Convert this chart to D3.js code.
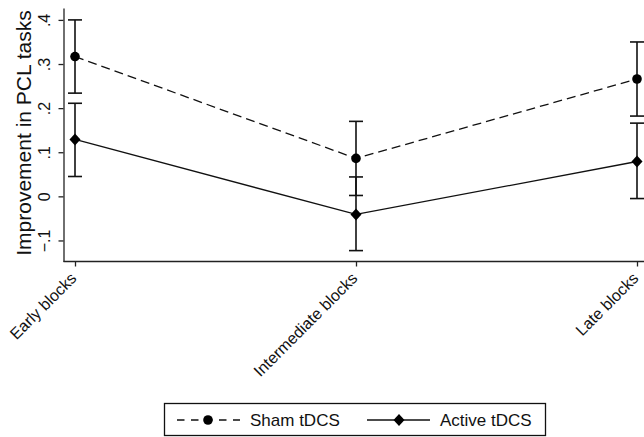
<!DOCTYPE html>
<html>
<head>
<meta charset="utf-8">
<script src="https://cdn.jsdelivr.net/npm/d3@7"></script>
<style>
  body { margin: 0; background: #fff; }
  svg { display: block; font-family: "Liberation Sans", Arial, Helvetica, sans-serif; }
</style>
</head>
<body>
<svg id="chart"></svg>
<script>
// Data.
var categories = ["Early blocks", "Intermediate blocks", "Late blocks"];
var shamMean   = [0.317, 0.086, 0.266];
var shamLower  = [0.234, 0.002, 0.182];
var shamUpper  = [0.400, 0.170, 0.350];
var activeMean  = [0.129, -0.041, 0.079];
var activeLower = [0.045, -0.123, -0.005];
var activeUpper = [0.211, 0.044, 0.166];
var yTickValues = [-0.1, 0, 0.1, 0.2, 0.3, 0.4];
var yTickLabels = ["\u2212.1", "0", ".1", ".2", ".3", ".4"];
var seriesNames = ["Sham tDCS", "Active tDCS"];

var W = 644, H = 437;
var axisX = 63.5, axisY = 261.5;

var svg = d3.select("#chart").attr("width", W).attr("height", H);
svg.append("rect").attr("width", W).attr("height", H).attr("fill", "#fff");

var x = d3.scalePoint().domain(categories).range([75, 637]);
var y = d3.scaleLinear().domain([-0.1477, 0.427]).range([axisY, 8]);

// Axes
var yAxis = svg.append("g")
    .attr("transform", "translate(" + axisX + ",0)")
    .call(d3.axisLeft(y).tickValues(yTickValues).tickSize(5).tickSizeOuter(0)
        .tickFormat(function (d, i) { return yTickLabels[i]; }));
yAxis.select(".domain").attr("stroke-width", 1.3).attr("stroke", "#222");
yAxis.selectAll(".tick line").attr("stroke-width", 1.3).attr("stroke", "#222");
yAxis.selectAll(".tick text")
    .attr("transform", "rotate(-90)")
    .attr("x", 0).attr("y", -13.5).attr("dy", 0)
    .attr("text-anchor", "middle")
    .attr("font-size", 16).attr("fill", "#111")
    .style("font-family", "'Liberation Sans', Arial, sans-serif");

var xAxis = svg.append("g")
    .attr("transform", "translate(0," + axisY + ")")
    .call(d3.axisBottom(x).tickSize(5).tickSizeOuter(0));
xAxis.select(".domain").remove();
xAxis.append("line").attr("x1", axisX).attr("x2", W).attr("y1", 0).attr("y2", 0)
    .attr("stroke", "#222").attr("stroke-width", 1.3);
xAxis.selectAll(".tick line").attr("stroke-width", 1.3).attr("stroke", "#222");
xAxis.selectAll(".tick text")
    .attr("x", 0).attr("y", 0).attr("dy", "0.35em")
    .attr("transform", "translate(-2,14) rotate(-45)")
    .attr("text-anchor", "end")
    .attr("font-size", 16).attr("fill", "#111")
    .style("font-family", "'Liberation Sans', Arial, sans-serif");

// Y title
svg.append("text")
    .attr("transform", "translate(31,133) rotate(-90)")
    .attr("text-anchor", "middle")
    .attr("font-size", 21).attr("fill", "#111")
    .text("Improvement in PCL tasks");

// Series
var series = [
  { mean: shamMean, lower: shamLower, upper: shamUpper, dash: "9,5", marker: "circle" },
  { mean: activeMean, lower: activeLower, upper: activeUpper, dash: null, marker: "diamond" }
];

var line = d3.line().x(function (d, i) { return x(categories[i]); }).y(function (d) { return y(d); });

function drawMarker(g, type, cx, cy) {
  if (type === "circle") {
    g.append("circle").attr("cx", cx).attr("cy", cy).attr("r", 4.8).attr("fill", "#000");
  } else {
    g.append("path").attr("fill", "#000")
      .attr("d", "M" + cx + "," + (cy - 6) + "L" + (cx + 5.5) + "," + cy + "L" + cx + "," + (cy + 6) + "L" + (cx - 5.5) + "," + cy + "Z");
  }
}

series.forEach(function (s) {
  var g = svg.append("g");
  // error bars
  s.mean.forEach(function (m, i) {
    var cx = x(categories[i]);
    g.append("line").attr("x1", cx).attr("x2", cx)
      .attr("y1", y(s.lower[i])).attr("y2", y(s.upper[i]))
      .attr("stroke", "#111").attr("stroke-width", 1.6);
    [s.lower[i], s.upper[i]].forEach(function (v) {
      g.append("line").attr("x1", cx - 7).attr("x2", cx + 7)
        .attr("y1", y(v)).attr("y2", y(v))
        .attr("stroke", "#111").attr("stroke-width", 1.6);
    });
  });
  g.append("path").datum(s.mean)
    .attr("d", line).attr("fill", "none")
    .attr("stroke", "#111").attr("stroke-width", 1.3)
    .attr("stroke-dasharray", s.dash);
  s.mean.forEach(function (m, i) {
    drawMarker(g, s.marker, x(categories[i]), y(m));
  });
});

// Legend
var lg = svg.append("g");
lg.append("rect").attr("x", 164.5).attr("y", 403.5).attr("width", 381).attr("height", 32)
  .attr("fill", "#fff").attr("stroke", "#111").attr("stroke-width", 1.3);
lg.append("line").attr("x1", 177).attr("x2", 240).attr("y1", 420).attr("y2", 420)
  .attr("stroke", "#111").attr("stroke-width", 1.3).attr("stroke-dasharray", "7.5,6.5");
drawMarker(lg, "circle", 208, 420);
lg.append("text").attr("x", 250).attr("y", 426).attr("font-size", 17).attr("fill", "#111")
  .text(seriesNames[0]);
lg.append("line").attr("x1", 367).attr("x2", 430).attr("y1", 420).attr("y2", 420)
  .attr("stroke", "#111").attr("stroke-width", 1.3);
drawMarker(lg, "diamond", 399, 420);
lg.append("text").attr("x", 440).attr("y", 426).attr("font-size", 17).attr("fill", "#111")
  .text(seriesNames[1]);
</script>
</body>
</html>
